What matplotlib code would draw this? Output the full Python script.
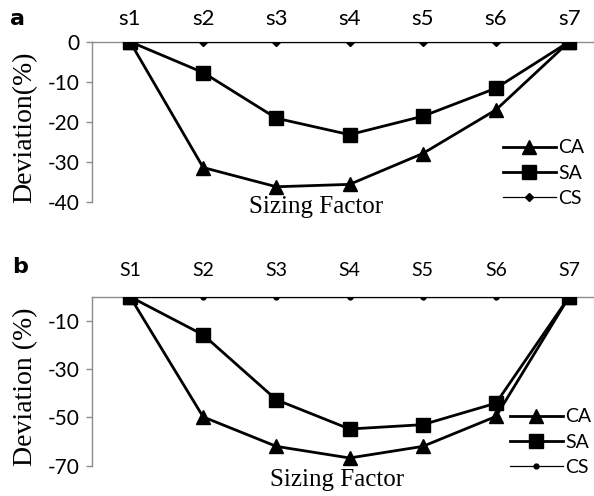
import matplotlib
matplotlib.use("Agg")
import matplotlib.pyplot as plt

# ---- data ----
cats_a = ["s1", "s2", "s3", "s4", "s5", "s6", "s7"]
cats_b = ["S1", "S2", "S3", "S4", "S5", "S6", "S7"]
ca_a = [0, -31.4, -36.2, -35.6, -27.9, -17.0, 0]
sa_a = [0, -7.7, -19.1, -23.2, -18.6, -11.6, 0]
cs_a = [0, 0, 0, 0, 0, 0, 0]
ca_b = [0, -49.8, -62.0, -66.8, -62.0, -49.6, 0]
sa_b = [0, -15.8, -42.7, -54.8, -53.0, -44.1, 0]
cs_b = [0, 0, 0, 0, 0, 0, 0]
yticks_a = [0, -10, -20, -30, -40]
yticks_b = [-10, -30, -50, -70]
series_names = ["CA", "SA", "CS"]

W, H = 594, 496
fig = plt.figure(figsize=(W / 100, H / 100), dpi=100)
SANS = "Lato"
SERIF = "Liberation Serif"
GRAY = "#8c8c8c"


def fx(px):
    return px / W


def fy(py):
    return 1 - py / H


def panel(rect, cats, ca, sa, cs, yticks, ylim, ylabel, cs_marker, cs_ms,
          tick_fs, tick_pad, ylabel_coords, xlabel_coords, leg_y, leg_x):
    ax = fig.add_axes(rect)
    x = list(range(1, len(cats) + 1))
    ax.plot(x, cs, color="black", lw=0.9, marker=cs_marker, ms=cs_ms,
            label=series_names[2], zorder=3)
    ax.plot(x, ca, color="black", lw=2.0, marker="^", ms=9.5,
            label=series_names[0], zorder=4)
    ax.plot(x, sa, color="black", lw=2.0, marker="s", ms=9.5,
            label=series_names[1], zorder=5)
    ax.set_xlim(0.481, 7.339)
    ax.set_ylim(*ylim)
    ax.set_yticks(yticks)
    ax.set_yticklabels([str(v) for v in yticks], fontfamily=SANS, fontsize=15)
    ax.xaxis.tick_top()
    ax.set_xticks(x)
    ax.set_xticklabels(cats, fontfamily=SANS, fontsize=tick_fs)
    ax.tick_params(axis="x", length=0, pad=tick_pad)
    ax.tick_params(axis="y", length=4, width=1, color=GRAY, pad=5)
    for s in ["right", "bottom"]:
        ax.spines[s].set_visible(False)
    for s in ["left", "top"]:
        ax.spines[s].set_color(GRAY)
        ax.spines[s].set_linewidth(1.0)
    ax.set_ylabel(ylabel, fontfamily=SERIF, fontsize=20)
    ax.yaxis.set_label_coords(*ylabel_coords)
    ax.set_xlabel("Sizing Factor", fontfamily=SERIF, fontsize=18)
    ax.xaxis.set_label_coords(*xlabel_coords)
    handles, labels = ax.get_legend_handles_labels()
    order = [1, 2, 0]
    ax.legend([handles[i] for i in order], [labels[i] for i in order],
              loc="center left", bbox_to_anchor=(fx(leg_x), fy(leg_y)),
              bbox_transform=fig.transFigure, frameon=False,
              prop={"family": SANS, "size": 14}, handlelength=2.7,
              handletextpad=0.15, labelspacing=0.42, borderpad=0,
              borderaxespad=0)
    return ax


# panel a
top_a, bot_a = 41.7, 202
panel([fx(92), fy(bot_a), 1 - fx(92), (bot_a - top_a) / H],
      cats_a, ca_a, sa_a, cs_a, yticks_a, (-40, 0), "Deviation(%)", "D", 4.5,
      16, 9, (-0.108, 0.468), (0.446, 0.037), 173, 503)

# panel b
top_b, bot_b = 296.7, 465.7
panel([fx(92), fy(bot_b), 1 - fx(92), (bot_b - top_b) / H],
      cats_b, ca_b, sa_b, cs_b, yticks_b, (-70, 0), "Deviation (%)", "o", 3.5,
      14, 13, (-0.108, 0.469), (0.489, -0.02), 442, 510)

fig.text(fx(10), fy(25), "a", fontfamily="DejaVu Sans", fontweight="bold",
         fontsize=16, ha="left", va="baseline")
fig.text(fx(12), fy(273), "b", fontfamily="DejaVu Sans", fontweight="bold",
         fontsize=16, ha="left", va="baseline")

fig.savefig("out.png", dpi=100)
